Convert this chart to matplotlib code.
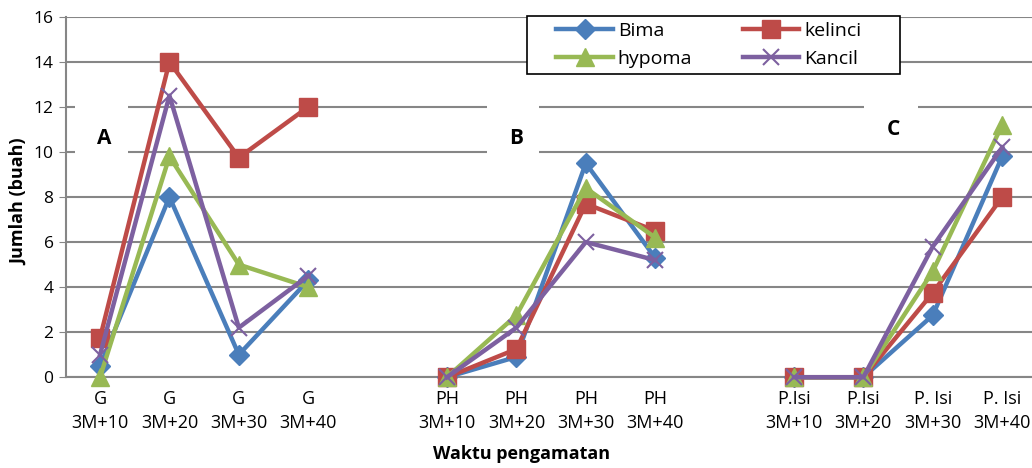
import numpy as np
import matplotlib
matplotlib.use("Agg")
import matplotlib.pyplot as plt
from matplotlib.patches import Rectangle

plt.rcParams['font.family'] = ['Open Sans', 'DejaVu Sans']

nan = np.nan
labels = ["G\n3M+10", "G\n3M+20", "G\n3M+30", "G\n3M+40", "",
          "PH\n3M+10", "PH\n3M+20", "PH\n3M+30", "PH\n3M+40", "",
          "P.Isi\n3M+10", "P.Isi\n3M+20", "P. Isi\n3M+30", "P. Isi\n3M+40"]

bima    = [0.5, 8.0, 1.0, 4.3, nan, 0, 0.9, 9.5, 5.3, nan, 0, 0, 2.75, 9.8]
kelinci = [1.75, 14.0, 9.75, 12.0, nan, 0, 1.25, 7.7, 6.5, nan, 0, 0, 3.75, 8.0]
hypoma  = [0.0, 9.8, 5.0, 4.0, nan, 0, 2.75, 8.4, 6.2, nan, 0, 0, 4.7, 11.2]
kancil  = [1.0, 12.5, 2.2, 4.5, nan, 0, 2.2, 6.0, 5.2, nan, 0, 0, 5.8, 10.2]

x = np.arange(len(labels))

fig = plt.figure(figsize=(10.32, 4.68), dpi=100)
ax = fig.add_axes([0.064, 0.194, 0.936, 0.770])

h1, = ax.plot(x, bima, color='#4A7EBB', lw=3.2, marker='D', ms=10, label='Bima', zorder=3, clip_on=False)
h2, = ax.plot(x, kelinci, color='#BE4B48', lw=3.2, marker='s', ms=12.5, label='kelinci', zorder=3, clip_on=False)
h3, = ax.plot(x, hypoma, color='#98B954', lw=3.2, marker='^', ms=13, label='hypoma', zorder=3, clip_on=False)
h4, = ax.plot(x, kancil, color='#7D60A0', lw=3.2, marker='x', ms=11, mew=1.5, label='Kancil', zorder=3, clip_on=False)

ax.set_xlim(-0.49, 13.43)
ax.set_ylim(0, 16)
ax.set_yticks(range(0, 17, 2))
ax.set_xticks([i for i in x if labels[i]])
ax.set_xticklabels([l for l in labels if l], fontsize=13, linespacing=1.45)
ax.tick_params(axis='x', length=0, pad=9)
ax.tick_params(axis='y', labelsize=12.5, length=5, color='#868686', pad=4)
ax.grid(axis='y', color='#868686', lw=1.5, zorder=0)
ax.set_axisbelow(True)
for s in ['top', 'right']:
    ax.spines[s].set_visible(False)
for s in ['left', 'bottom']:
    ax.spines[s].set_color('#868686')
    ax.spines[s].set_linewidth(1.5)

fig.text(0.018, 0.57, "Jumlah (buah)", fontsize=13, fontweight='bold', rotation=90,
         ha='center', va='center')
fig.text(0.505, 0.02, "Waktu pengamatan", fontsize=13, fontweight='bold', ha='center')

# panel letters on white patches
for txt, xi, yi, box in [("A", 0.06, 10.6, (-0.36, 9.93, 0.76, 2.14)),
                         ("B", 5.99, 10.6, (5.58, 9.93, 0.74, 2.14)),
                         ("C", 11.44, 11.0, (11.01, 10.1, 0.78, 2.4))]:
    ax.add_patch(Rectangle(box[:2], box[2], box[3], facecolor='white', edgecolor='none', zorder=1))
    ax.text(xi, yi, txt, fontsize=15, fontweight='bold', ha='center', va='center', zorder=4)

fig.patches.append(Rectangle((0.5107, 0.842), 0.3614, 0.124, transform=fig.transFigure,
                             facecolor='white', edgecolor='black', lw=1.2, zorder=5))
leg = fig.legend([h1, h3, h2, h4], ['Bima', 'hypoma', 'kelinci', 'Kancil'],
                 loc='upper left', bbox_to_anchor=(0.526, 0.982), ncol=2, fontsize=14,
                 frameon=False, handlelength=2.9, columnspacing=2.6, borderpad=0.2,
                 labelspacing=0.5, handletextpad=0.25)
leg.set_zorder(6)

fig.savefig("out.png", dpi=100)
